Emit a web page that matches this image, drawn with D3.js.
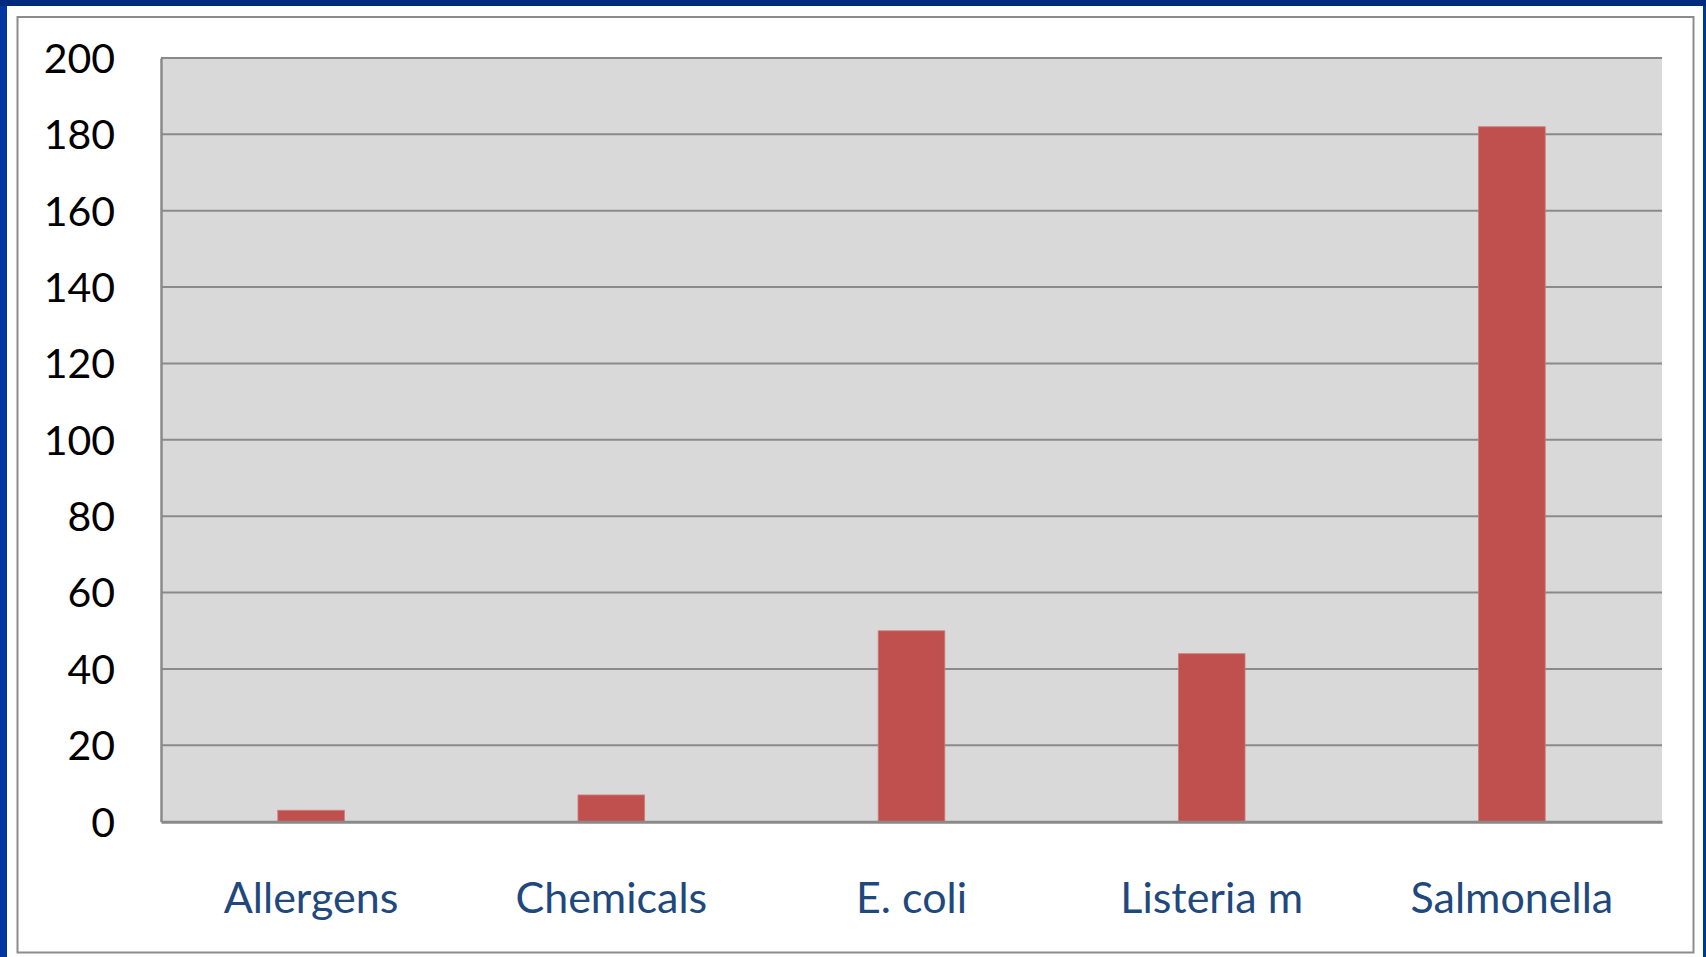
<!DOCTYPE html>
<html>
<head>
<meta charset="utf-8">
<script src="https://cdn.jsdelivr.net/npm/d3@7"></script>
<style>
  html, body { margin: 0; padding: 0; background: #ffffff; }
  svg { display: block; }
</style>
</head>
<body>
<svg id="chart" width="1706" height="957"></svg>
<script>
const categories = ["Allergens", "Chemicals", "E. coli", "Listeria m", "Salmonella"];
const values = [3, 7, 50, 44, 182];
const yTicks = [0, 20, 40, 60, 80, 100, 120, 140, 160, 180, 200];

const W = 1706, H = 957;
const svg = d3.select("#chart");

// outer blue frame
svg.append("rect").attr("x", 0).attr("y", 0).attr("width", W).attr("height", H).attr("fill", "#0036a0");
svg.append("rect").attr("x", 0).attr("y", 0).attr("width", W).attr("height", 6).attr("fill", "#002a7c");
svg.append("rect").attr("x", 7).attr("y", 6).attr("width", W - 10).attr("height", H - 6).attr("fill", "#ffffff");

// gray chart frame
svg.append("rect").attr("x", 17.5).attr("y", 17).attr("width", 1676).attr("height", 935.5)
  .attr("fill", "#ffffff").attr("stroke", "#8c8c8c").attr("stroke-width", 2);

const plot = { left: 161, top: 58, right: 1662, bottom: 821.7 };

const x = d3.scaleBand().domain(categories).range([plot.left, plot.right])
  .paddingInner(0.778).paddingOuter(0.389);
const y = d3.scaleLinear().domain([0, 200]).range([plot.bottom, plot.top]);

// plot background
svg.append("rect").attr("x", plot.left).attr("y", plot.top)
  .attr("width", plot.right - plot.left).attr("height", plot.bottom - plot.top)
  .attr("fill", "#d9d9d9");

// gridlines
svg.append("g").selectAll("line").data(yTicks.filter(d => d > 0)).join("line")
  .attr("x1", plot.left).attr("x2", plot.right)
  .attr("y1", d => y(d)).attr("y2", d => y(d))
  .attr("stroke", "#8a8a8a").attr("stroke-width", 2);

// bars
svg.append("g").selectAll("rect").data(values).join("rect")
  .attr("x", (d, i) => x(categories[i]))
  .attr("y", d => y(d))
  .attr("width", x.bandwidth())
  .attr("height", d => y(0) - y(d))
  .attr("fill", "#c0504d")
  .attr("stroke", "#cf7e7b").attr("stroke-width", 0.8);

// y axis
const yAxis = d3.axisLeft(y).tickValues(yTicks).tickSize(0).tickPadding(0).tickFormat(d3.format("d"));
const gy = svg.append("g").attr("transform", `translate(${plot.left},0)`).call(yAxis);
gy.select(".domain").attr("stroke", "#8a8a8a").attr("stroke-width", 2.5);
gy.selectAll("text")
  .attr("x", 115 - plot.left)
  .attr("dy", "0.35em")
  .attr("fill", "#000000")
  .style("font-family", "Lato, 'Open Sans', sans-serif")
  .style("font-size", "41px");

// x axis
const xAxis = d3.axisBottom(x).tickSize(0).tickPadding(0);
const gx = svg.append("g").attr("transform", `translate(0,${plot.bottom})`).call(xAxis);
gx.select(".domain").attr("stroke", "#8a8a8a").attr("stroke-width", 3);
gx.selectAll("text")
  .attr("y", 913 - plot.bottom)
  .attr("dy", 0)
  .attr("fill", "#1f497d")
  .style("font-family", "Lato, 'Open Sans', sans-serif")
  .style("font-size", "43px");
</script>
</body>
</html>
